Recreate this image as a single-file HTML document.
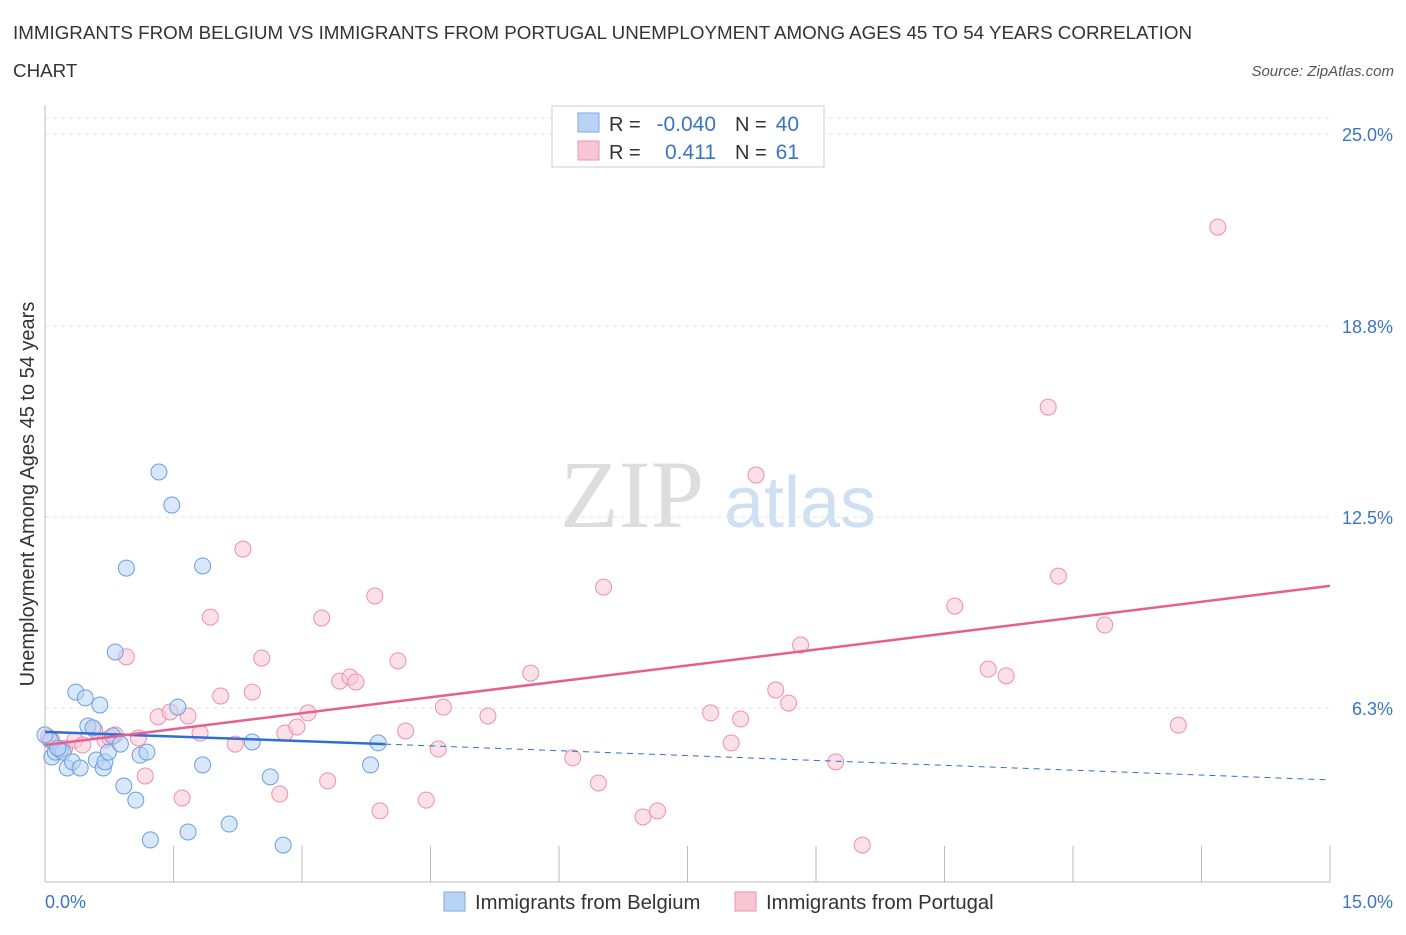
<!DOCTYPE html>
<html><head><meta charset="utf-8"><style>
body{margin:0;background:#fff;font-family:"Liberation Sans",sans-serif;}
</style></head><body>
<svg id="chart" width="1406" height="930" xmlns="http://www.w3.org/2000/svg" font-family="Liberation Sans, sans-serif">
<text x="13" y="39" font-size="18.8" fill="#333" textLength="1179" lengthAdjust="spacingAndGlyphs">IMMIGRANTS FROM BELGIUM VS IMMIGRANTS FROM PORTUGAL UNEMPLOYMENT AMONG AGES 45 TO 54 YEARS CORRELATION</text>
<text x="13" y="77" font-size="18.8" fill="#333">CHART</text>
<text x="1394" y="76" font-size="15" fill="#555" font-style="italic" text-anchor="end">Source: ZipAtlas.com</text>
<text x="632" y="527" font-size="96" fill="#ddd" font-family="Liberation Serif, serif" text-anchor="middle">ZIP</text>
<text x="800" y="527" font-size="72" fill="#cfe0f3" text-anchor="middle">atlas</text>
<g id="grid"></g><g id="axes"></g><g id="marks"></g>
<text transform="translate(34,494) rotate(-90)" font-size="20" fill="#333" text-anchor="middle">Unemployment Among Ages 45 to 54 years</text>
<text x="45" y="908" font-size="18" fill="#3a75c4">0.0%</text>
<text x="1393" y="908" font-size="18" fill="#3a75c4" text-anchor="end">15.0%</text>
<g>
<rect x="552" y="106" width="272" height="61" fill="#fff" stroke="#ccc"/>
<rect x="578" y="113" width="21" height="19" fill="#b9d3f5" stroke="#7aa9e6"/>
<rect x="578" y="141" width="21" height="19" fill="#f9c6d5" stroke="#ec94b0"/>
<text x="609" y="131" font-size="20" fill="#333">R =</text>
<text x="716" y="131" font-size="21" fill="#3a75c4" text-anchor="end">-0.040</text>
<text x="735" y="131" font-size="20" fill="#333">N =</text>
<text x="799" y="131" font-size="21" fill="#3a75c4" text-anchor="end">40</text>
<text x="609" y="159" font-size="20" fill="#333">R =</text>
<text x="716" y="159" font-size="21" fill="#3a75c4" text-anchor="end">0.411</text>
<text x="735" y="159" font-size="20" fill="#333">N =</text>
<text x="799" y="159" font-size="21" fill="#3a75c4" text-anchor="end">61</text>
</g>
<g>
<rect x="444" y="892" width="21" height="19" fill="#b9d3f5" stroke="#7aa9e6"/>
<text x="475" y="909" font-size="20.3" fill="#333">Immigrants from Belgium</text>
<rect x="735" y="892" width="21" height="19" fill="#f9c6d5" stroke="#ec94b0"/>
<text x="766" y="909" font-size="20.3" fill="#333">Immigrants from Portugal</text>
</g>
</svg>
<script>
const yTicks=[25.0,18.8,12.5,6.3];
const yTickLabels=["25.0%","18.8%","12.5%","6.3%"];
const blueX=[0.06,0.08,0.12,0.18,0.21,0.26,0.32,0.36,0.41,0.47,0.5,0.56,0.6,0.64,0.68,0.7,0.74,0.79,0.82,0.88,0.92,0.95,1.06,1.11,1.19,1.23,1.33,1.48,1.55,1.67,1.84,1.84,2.15,2.42,2.63,2.78,3.8,3.89,0.0,0.15];
const blueY=[5.20,4.65,4.81,4.88,4.81,4.29,4.49,6.77,4.29,6.58,5.66,5.60,4.55,6.35,4.29,4.49,4.81,5.34,8.08,5.07,3.70,10.82,3.24,4.71,4.81,1.94,13.96,12.88,6.28,2.20,4.39,10.89,2.46,5.14,4.00,1.77,4.39,5.11,5.37,4.94];
const pinkX=[0.04,0.08,0.18,0.23,0.35,0.44,0.58,0.7,0.76,0.82,0.95,1.09,1.17,1.32,1.46,1.6,1.67,1.81,1.93,2.05,2.22,2.31,2.42,2.53,2.74,2.8,2.94,3.07,3.23,3.3,3.44,3.56,3.63,3.85,3.91,4.12,4.21,4.45,4.59,4.65,5.17,5.67,6.16,6.46,6.52,6.98,7.15,7.77,8.01,8.12,8.3,8.53,8.68,8.82,9.23,9.54,10.62,11.01,11.22,11.71,11.83,12.37,13.23,13.69];
const pinkY=[5.30,5.20,4.88,4.94,5.20,5.04,5.53,5.20,5.27,5.37,7.92,5.27,4.03,5.96,6.12,3.31,5.99,5.43,9.22,6.64,5.07,11.44,6.77,7.88,3.44,5.43,5.63,6.09,9.19,3.87,7.13,7.26,7.10,9.91,2.89,7.79,5.50,3.24,4.91,6.28,5.99,7.39,4.62,3.80,10.20,2.69,2.89,6.09,5.11,5.89,13.86,6.84,6.41,8.31,4.49,1.77,9.58,7.52,7.30,16.08,10.56,8.96,5.69,21.96];
const blueTrend=[[0,5.47],[3.97,5.07],[15,3.90]];
const pinkTrend=[[0,5.04],[15,10.24]];
const X=v=>45+v/15*1285;
const Y=v=>708-(v-6.25)*30.61;
const NS="http://www.w3.org/2000/svg";
function mk(p,t,a){const e=document.createElementNS(NS,t);for(const k in a)e.setAttribute(k,a[k]);p.appendChild(e);return e;}
const grid=document.getElementById('grid'),axes=document.getElementById('axes'),marks=document.getElementById('marks');
yTicks.forEach((v,i)=>{const yy=[134,326,517,708][i];
const l=mk(grid,'line',{x1:45,x2:1330,y1:yy,y2:yy,stroke:'#e3e3e3','stroke-dasharray':'4,4'});


const t=mk(grid,'text',{x:1393,y:yy+7,'font-size':18,fill:'#3a75c4','text-anchor':'end'});t.textContent=yTickLabels[i];

});
mk(grid,'line',{x1:45,x2:1330,y1:118,y2:118,stroke:'#e3e3e3','stroke-dasharray':'4,4'});
const ax=mk(axes,'line',{x1:45,x2:1330,y1:882,y2:882,stroke:'#bbb'});


const ay=mk(axes,'line',{x1:45,x2:45,y1:105,y2:882,stroke:'#bbb'});


for(let i=0;i<=10;i++){const xx=X(i*1.5);const t=mk(axes,'line',{x1:xx,x2:xx,y1:846,y2:882,stroke:'#bbb'});

}
function dots(xs,ys,fill,stroke,name){xs.forEach((v,i)=>{const c=mk(marks,'circle',{cx:X(v),cy:Y(ys[i]),r:8,fill:fill,'fill-opacity':0.55,stroke:stroke,'stroke-width':1});

});}
dots(pinkX,pinkY,'#f9c6d5','#ec8fae','portugal-point');
dots(blueX,blueY,'#b9d3f5','#6b9fe0','belgium-point');
const b1=mk(marks,'line',{x1:X(blueTrend[0][0]),y1:Y(blueTrend[0][1]),x2:X(blueTrend[1][0]),y2:Y(blueTrend[1][1]),stroke:'#2f6fd1','stroke-width':2.5});


const b2=mk(marks,'line',{x1:X(blueTrend[1][0]),y1:Y(blueTrend[1][1]),x2:X(blueTrend[2][0]),y2:Y(blueTrend[2][1]),stroke:'#2f6fd1','stroke-width':1,'stroke-dasharray':'6,5'});


const p1=mk(marks,'line',{x1:X(pinkTrend[0][0]),y1:Y(pinkTrend[0][1]),x2:X(pinkTrend[1][0]),y2:Y(pinkTrend[1][1]),stroke:'#e5608f','stroke-width':2.5});


</script>
</body></html>
